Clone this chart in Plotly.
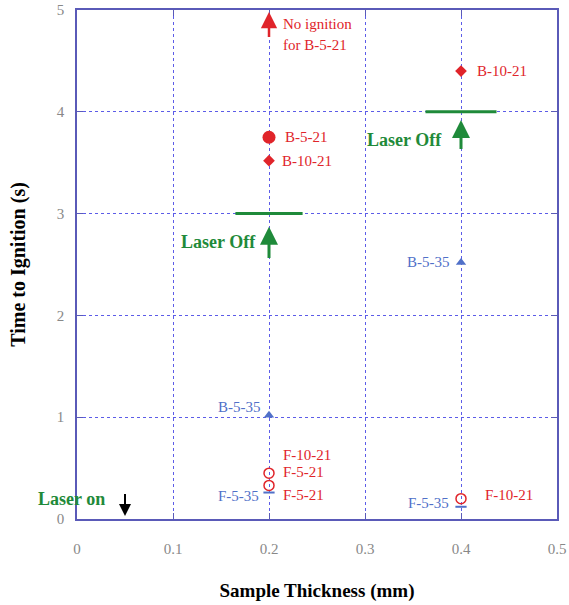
import plotly.graph_objects as go

# ---- data ----
filled_circle_x = [0.2]
filled_circle_y = [3.75]
diamond_x = [0.2, 0.4]
diamond_y = [3.52, 4.4]
triangle_x = [0.2, 0.4]
triangle_y = [1.02, 2.52]
open_circle_x = [0.2, 0.2, 0.4]
open_circle_y = [0.45, 0.33, 0.2]
dash_x = [0.2, 0.4]
dash_y = [0.26, 0.12]

no_ign_x = 0.2
no_ign_tail = 4.72
no_ign_tip = 4.98

laser_off_x = [0.2, 0.4]
laser_off_level = [3.0, 4.0]
laser_off_halfwidth = [0.035, 0.037]
laser_off_arrow_tail = [2.55, 3.62]
laser_off_arrow_tip = [2.87, 3.92]
laser_off_text_y = [2.72, 3.72]
laser_off_text_shift = [-11, -17]

laser_on_x = 0.05
laser_on_tail = 0.26
laser_on_tip = 0.03
laser_on_text_y = 0.2

x_ticks = [0, 0.1, 0.2, 0.3, 0.4, 0.5]
x_tick_text = ["0", "0.1", "0.2", "0.3", "0.4", "0.5"]
y_ticks = [0, 1, 2, 3, 4, 5]

RED = "#e0242a"
BLUE = "#5070c8"
GREEN = "#1f8a3a"
SERIF = "Liberation Serif, Times New Roman, serif"
# labels: (text, x, y, color, anchor, xshift, yshift)
labels = [
    ("No ignition", 0.2, 4.86, RED, "left", 12, 0),
    ("for B-5-21", 0.2, 4.66, RED, "left", 12, 0),
    ("B-5-21", 0.2, 3.75, RED, "left", 14, 0),
    ("B-10-21", 0.2, 3.52, RED, "left", 11, 0),
    ("B-10-21", 0.4, 4.4, RED, "left", 14, 0),
    ("B-5-35", 0.4, 2.52, BLUE, "right", -9, 0),
    ("B-5-35", 0.2, 1.02, BLUE, "right", -6, 8),
    ("F-10-21", 0.2, 0.63, RED, "left", 12, 0),
    ("F-5-21", 0.2, 0.46, RED, "left", 12, 0),
    ("F-5-21", 0.2, 0.24, RED, "left", 12, 0),
    ("F-5-35", 0.2, 0.23, BLUE, "right", -8, 0),
    ("F-5-35", 0.4, 0.16, BLUE, "right", -10, 0),
    ("F-10-21", 0.4, 0.24, RED, "left", 22, 0),
]

fig = go.Figure()

fig.add_trace(go.Scatter(x=filled_circle_x, y=filled_circle_y, mode="markers",
                         marker=dict(symbol="circle", size=13, color=RED)))
fig.add_trace(go.Scatter(x=diamond_x, y=diamond_y, mode="markers",
                         marker=dict(symbol="diamond", size=9, color=RED)))
fig.add_trace(go.Scatter(x=triangle_x, y=triangle_y, mode="markers",
                         marker=dict(symbol="triangle-up", size=9, color=BLUE)))
fig.add_trace(go.Scatter(x=open_circle_x, y=open_circle_y, mode="markers",
                         marker=dict(symbol="circle-open", size=10, color=RED,
                                     line=dict(width=1.5, color=RED))))
fig.add_trace(go.Scatter(x=dash_x, y=dash_y, mode="markers",
                         marker=dict(symbol="line-ew", size=8, color=BLUE,
                                     line=dict(width=2, color=BLUE))))

annotations = []
annotations.append(dict(x=no_ign_x, y=no_ign_tip, ax=no_ign_x, ay=no_ign_tail,
                        xref="x", yref="y", axref="x", ayref="y", text="",
                        showarrow=True, arrowhead=2, arrowsize=1.3, arrowwidth=2.5,
                        arrowcolor=RED))
for xv, tail, tip, ty, tsh in zip(laser_off_x, laser_off_arrow_tail, laser_off_arrow_tip,
                                   laser_off_text_y, laser_off_text_shift):
    annotations.append(dict(x=xv, y=tip, ax=xv, ay=tail, xref="x", yref="y",
                            axref="x", ayref="y", text="", showarrow=True,
                            arrowhead=2, arrowsize=1.2, arrowwidth=3, arrowcolor=GREEN))
    annotations.append(dict(x=xv, y=ty, xref="x", yref="y", text="<b>Laser Off</b>",
                            showarrow=False, xanchor="right", xshift=tsh,
                            font=dict(family=SERIF, size=18, color=GREEN)))
annotations.append(dict(x=laser_on_x, y=laser_on_tip, ax=laser_on_x, ay=laser_on_tail,
                        xref="x", yref="y", axref="x", ayref="y", text="",
                        showarrow=True, arrowhead=2, arrowsize=1.2, arrowwidth=2,
                        arrowcolor="black"))
annotations.append(dict(x=laser_on_x, y=laser_on_text_y, xref="x", yref="y",
                        text="<b>Laser on</b>",
                        showarrow=False, xanchor="right", xshift=-18,
                        font=dict(family=SERIF, size=18, color=GREEN)))
for text, xv, yv, col, anc, xs, ys in labels:
    annotations.append(dict(x=xv, y=yv, xref="x", yref="y", text=text, showarrow=False,
                            xanchor=anc, xshift=xs, yshift=ys,
                            font=dict(family=SERIF, size=15, color=col)))

shapes = []
for xv, lvl, hw in zip(laser_off_x, laser_off_level, laser_off_halfwidth):
    shapes.append(dict(type="line", xref="x", yref="y", x0=xv - hw, x1=xv + hw,
                       y0=lvl, y1=lvl, line=dict(color=GREEN, width=3)))

fig.update_layout(
    width=569, height=605,
    margin=dict(l=77, r=12, t=10, b=86, autoexpand=False),
    paper_bgcolor="white", plot_bgcolor="white",
    showlegend=False,
    annotations=annotations, shapes=shapes,
    font=dict(family=SERIF),
)
axis_common = dict(showline=True, linecolor="#5a5ab8", linewidth=1.5, mirror="ticks",
                   showgrid=True, gridcolor="#5c5ce8", griddash="dot", gridwidth=1,
                   zeroline=False, ticks="inside", ticklen=6, tickcolor="#5a5ab8",
                   automargin=False, ticklabeloverflow="allow",
                   tickfont=dict(family=SERIF, size=15, color="#888888"))
fig.update_xaxes(range=[0, 0.5], tickvals=x_ticks, ticktext=x_tick_text,
                 ticklabelstandoff=15,
                 title=dict(text="<b>Sample Thickness (mm)</b>", standoff=28,
                            font=dict(family=SERIF, size=19, color="black")),
                 **axis_common)
fig.update_yaxes(range=[0, 5], tickvals=y_ticks,
                 ticklabelstandoff=8,
                 title=dict(text="<b>Time to Ignition (s)</b>", standoff=26,
                            font=dict(family=SERIF, size=20, color="black")),
                 **axis_common)

fig.write_html("out.html", config={"displayModeBar": False},
               post_script="document.body.style.margin='0';document.body.style.overflow='hidden';")
